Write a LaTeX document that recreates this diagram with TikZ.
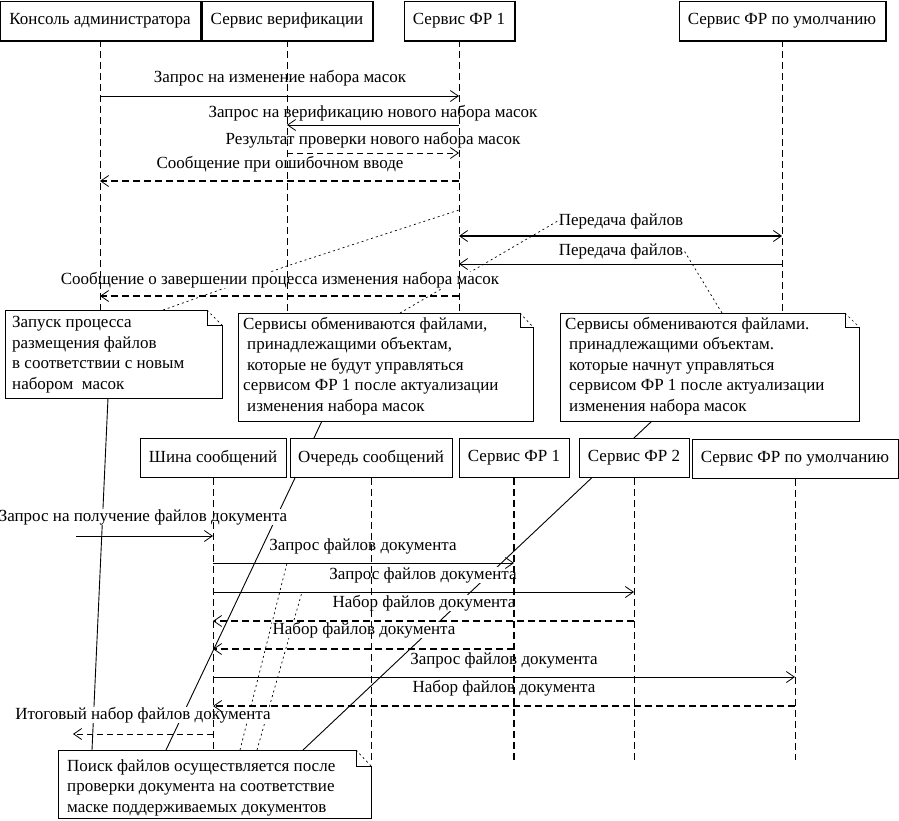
\documentclass[tikz,border=0pt]{standalone}
\usepackage{fontspec}
\setmainfont{Liberation Serif}
\usetikzlibrary{arrows.meta}
\pgfdeclarelayer{back}
\pgfdeclarelayer{mid}
\pgfsetlayers{back,mid,main}
\begin{document}
\begin{tikzpicture}[x=1pt,y=-1pt,
  every node/.style={font=\fontsize{17}{20.5}\selectfont},
  actor/.style={draw, fill=white, line width=0.9pt, minimum height=39pt, inner sep=0pt},
  life/.style={line width=0.9pt, dash pattern=on 7pt off 4pt},
  lifethick/.style={line width=2pt, dash pattern=on 7pt off 4pt},
  tip/.style={-{Straight Barb[length=8pt,width=11pt,line width=0.8pt]}},
  msg/.style={tip, line width=0.9pt},
  ret/.style={tip, line width=0.9pt, dash pattern=on 6pt off 4pt},
  retthick/.style={tip, line width=1.8pt, dash pattern=on 7pt off 4pt},
  lbl/.style={fill=white, inner xsep=1pt, inner ysep=0pt},
  dotl/.style={line width=0.7pt, dash pattern=on 2pt off 3pt},
  noteline/.style={line width=0.9pt},
  notebox/.style={draw, fill=white, line width=0.9pt},
  notetext/.style={align=left, anchor=base west, inner sep=0pt},
]
\useasboundingbox (0,0) rectangle (899,820);

% ---------- upper actors ----------
\node[actor, minimum width=200pt] (ca) at (100,20.5) {Консоль администратора};
\node[actor, minimum width=170pt] (vs) at (287,20.5) {Сервис верификации};
\node[actor, minimum width=110pt] (f1) at (459,20.5) {Сервис ФР 1};
\node[actor, minimum width=206pt] (fd) at (782,20.5) {Сервис ФР по умолчанию};
\foreach \b in {ca,vs,f1,fd}{
  \draw[line width=1pt] ([xshift=1pt]\b.north east) -- ([xshift=1pt,yshift=-1pt]\b.south east) -- ([yshift=-1pt]\b.south west);
}

% ---------- lower actors ----------
\node[actor, minimum width=146pt] (bus) at (213,458) {Шина сообщений};
\node[actor, minimum width=162pt] (q) at (371,458) {Очередь сообщений};
\node[actor, minimum width=110pt] (g1) at (514,458) {Сервис ФР 1};
\node[actor, minimum width=110pt] (g2) at (634,458) {Сервис ФР 2};
\node[actor, minimum width=206pt] (gd) at (795,459) {Сервис ФР по умолчанию};

% ---------- labels ----------
\begin{pgfonlayer}{mid}
\node[lbl] (l1) at (280,78) {Запрос на изменение набора масок};
\node[lbl] (l2) at (373,113) {Запрос на верификацию нового набора масок};
\node[lbl] (l3) at (373,140) {Результат проверки нового набора масок};
\node[lbl] (l4) at (280,164) {Сообщение при ошибочном вводе};
\node[lbl] (l5) at (621,221) {Передача файлов};
\node[lbl] (l6) at (621,251) {Передача файлов};
\node[lbl] (l7) at (280,280) {Сообщение о завершении процесса изменения набора масок};
\node[lbl] (la) at (143,517) {Запрос на получение файлов документа};
\node[lbl] (lb) at (363,546) {Запрос файлов документа};
\node[lbl] (lc) at (423,575) {Запрос файлов документа};
\node[lbl] (ld) at (424,603) {Набор файлов документа};
\node[lbl] (le) at (364,630) {Набор файлов документа};
\node[lbl] (lf) at (504,660) {Запрос файлов документа};
\node[lbl] (lg) at (504,688) {Набор файлов документа};
\node[lbl] (lh) at (143,715) {Итоговый набор файлов документа};
\end{pgfonlayer}

% ---------- note connectors ----------
\coordinate (n1top) at (163,310);
\coordinate (vsX) at (287,266);
\coordinate (f1X) at (459,210);
\coordinate (n2top) at (400,313);
\coordinate (n3top) at (722,313);
\coordinate (n1bot) at (108,398);
\coordinate (n2bot) at (322,421);
\coordinate (n3bot) at (652,421);
\coordinate (bn1) at (92,750);
\coordinate (bn2) at (166,750);
\coordinate (bn3) at (303,750);
\coordinate (bn4) at (240,750);
\coordinate (bn5) at (257,750);
\coordinate (mb) at (287,563);
\coordinate (mc) at (302,592);
\begin{pgfonlayer}{back}
\draw[dotl] (n1top) -- (vsX) -- (f1X);
\draw[dotl] (n2top) -- (l5.west);
\draw[dotl] (n3top) -- (l6.east);
\draw[noteline] (n1bot) -- (bn1);
\draw[noteline] (n2bot) -- (bn2);
\draw[noteline] (n3bot) -- (bn3);
\draw[dotl] (bn4) -- (mb);
\draw[dotl] (bn5) -- (mc);
\end{pgfonlayer}

% ---------- notes (text anchored at the baseline of the last line) ----------
\draw[notebox] (5,310) -- (207,310) -- (207,325) -- (222,325) -- (222,398) -- (5,398) -- cycle;
\draw[dotl] (207,310) -- (222,325);
\node[notetext] (t1) at (12,389) {Запуск процесса\\размещения файлов\\в соответствии с новым\\набором\ \ масок};

\draw[notebox] (238,313) -- (520,313) -- (520,327) -- (533,327) -- (533,421) -- (238,421) -- cycle;
\draw[dotl] (520,313) -- (533,327);
\node[notetext] (t2) at (243,411) {Сервисы обмениваются файлами,\\\hspace*{4pt}принадлежащими объектам,\\\hspace*{4pt}которые не будут управляться\\сервисом ФР 1 после актуализации\\\hspace*{4pt}изменения набора масок};

\draw[notebox] (560,313) -- (845,313) -- (845,327) -- (859,327) -- (859,421) -- (560,421) -- cycle;
\draw[dotl] (845,313) -- (859,327);
\node[notetext] (t3) at (565,411) {Сервисы обмениваются файлами.\\\hspace*{4pt}принадлежащими объектам.\\\hspace*{4pt}которые начнут управляться\\\hspace*{4pt}сервисом ФР 1 после актуализации\\\hspace*{4pt}изменения набора масок};

\draw[notebox] (58,750) -- (356,750) -- (356,766) -- (371,766) -- (371,818) -- (58,818) -- cycle;
\draw[dotl] (356,750) -- (371,766);
\node[notetext] (t4) at (67,812) {Поиск файлов осуществляется после\\проверки документа на соответствие\\маске поддерживаемых документов};

% ---------- lifelines ----------
\coordinate (caE) at (100,310);
\coordinate (vsE) at (287,313);
\coordinate (f1E) at (459,313);
\coordinate (fdE) at (782,313);
\draw[life] (ca) -- (caE);
\draw[life] (vs) -- (vsE);
\draw[life] (f1) -- (f1E);
\draw[life] (fd) -- (fdE);

\coordinate (busE) at (213,750);
\coordinate (qE) at (371,762);
\coordinate (g1E) at (514,760);
\coordinate (g2E) at (634,760);
\coordinate (gdE) at (795,760);
\draw[life] (bus) -- (busE);
\draw[life] (q) -- (qE);
\draw[lifethick] (g1) -- (g1E);
\draw[life] (g2) -- (g2E);
\draw[life] (gd) -- (gdE);

% ---------- upper messages ----------
\draw[msg] (ca |- 0,96) -- (f1 |- 0,96);
\draw[msg] (f1 |- 0,125) -- (vs |- 0,125);
\draw[ret] (vs |- 0,153) -- (f1 |- 0,153);
\draw[retthick] (f1 |- 0,181) -- (ca |- 0,181);
\draw[line width=1.8pt, {Straight Barb[length=8pt,width=11pt,line width=0.8pt]}-{Straight Barb[length=8pt,width=11pt,line width=0.8pt]}] (f1 |- 0,236) -- (fd |- 0,236);
\draw[msg] (fd |- 0,264) -- (f1 |- 0,264);
\draw[retthick] (f1 |- 0,296) -- (ca |- 0,296);

% ---------- lower messages ----------
\coordinate (src) at (76,536);
\coordinate (snk) at (73,734);
\draw[msg] (src) -- (bus |- 0,536);
\draw[msg] (bus |- 0,563) -- (g1 |- 0,563);
\draw[msg] (bus |- 0,592) -- (g2 |- 0,592);
\draw[retthick] (g2 |- 0,621) -- (bus |- 0,621);
\draw[retthick] (g1 |- 0,649) -- (bus |- 0,649);
\draw[msg] (bus |- 0,677) -- (gd |- 0,677);
\draw[retthick] (gd |- 0,706) -- (bus |- 0,706);
\draw[ret] (bus |- 0,734) -- (snk);
\end{tikzpicture}
\end{document}
